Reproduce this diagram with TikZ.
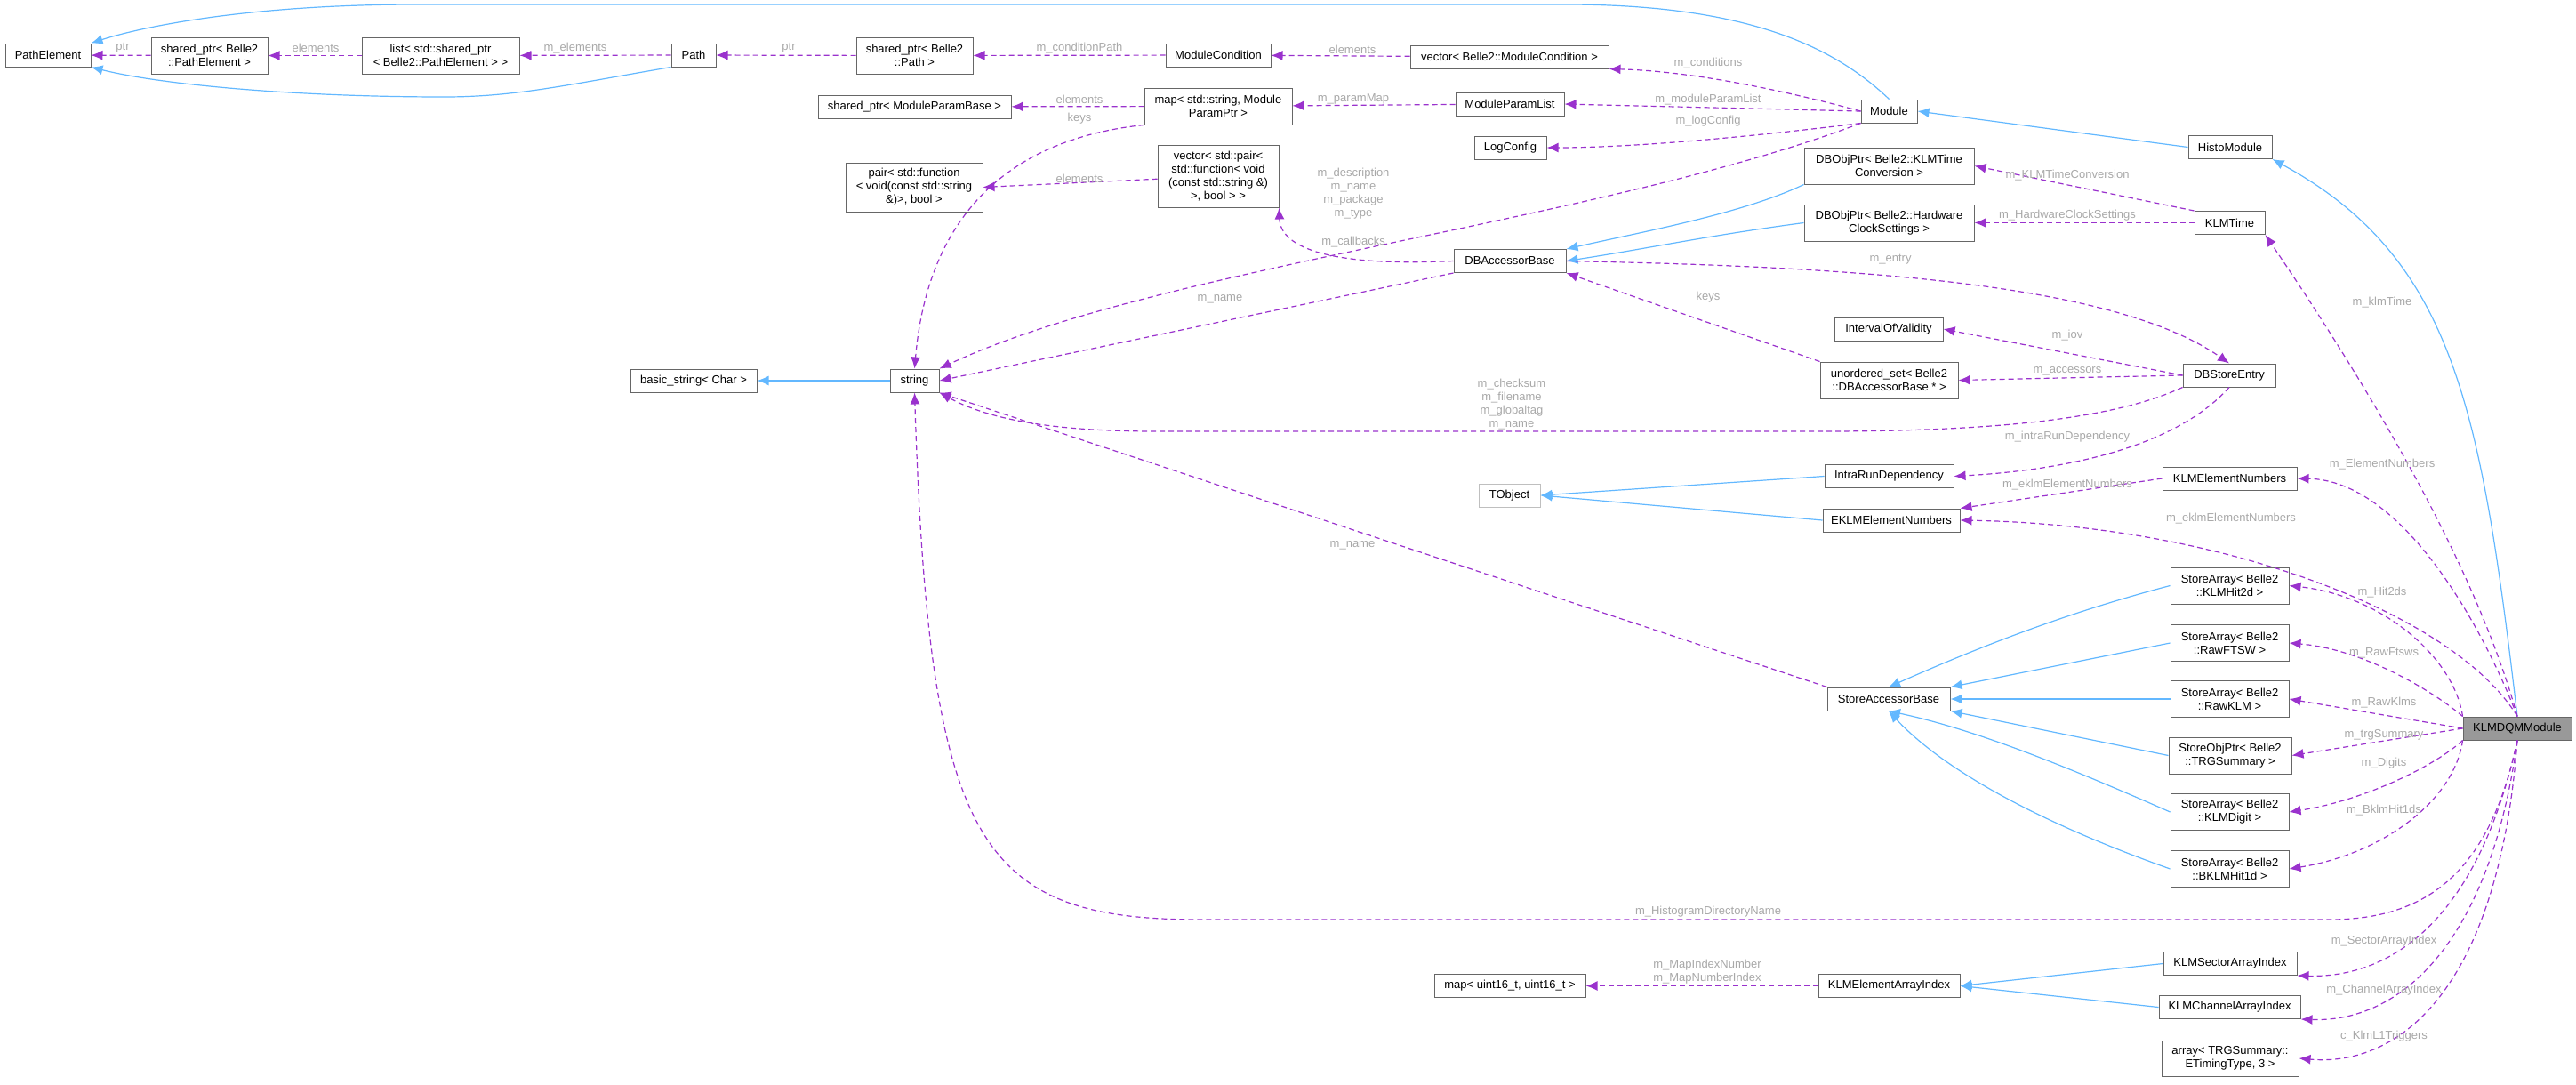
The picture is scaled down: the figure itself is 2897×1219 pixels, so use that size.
\documentclass[tikz,border=0pt]{standalone}
\usepackage{fontspec}
\setmainfont{Liberation Sans}
\usetikzlibrary{arrows.meta}
\definecolor{purp}{HTML}{9A32CD}
\definecolor{blu}{HTML}{63B8FF}
\definecolor{lab}{HTML}{A8A8A8}
\begin{document}
\begin{tikzpicture}[x=1pt,y=-1pt,
  box/.style={draw=black!60,line width=1pt,fill=white,inner sep=1pt,align=center,font=\fontsize{13}{15}\selectfont,minimum height=26},
  two/.style={minimum height=41},
  mem/.style={draw=purp,line width=1.2pt,dashed,dash pattern=on 6pt off 4pt,-{Latex[length=13,width=11]}},
  inh/.style={draw=blu,line width=1.2pt,-{Latex[length=13,width=11]}},
  lb/.style={text=lab,font=\fontsize{13}{15}\selectfont,align=center,inner sep=0pt}]
\useasboundingbox (0,0) rectangle (2897,1219);
% nodes
\node[box,minimum width=96] (PE) at (54,62) {PathElement};
\node[box,two,minimum width=131] (spPE) at (235.5,62.5) {shared\_ptr< Belle2\\::PathElement >};
\node[box,two,minimum width=177] (list) at (495.5,62.5) {list< std::shared\_ptr\\< Belle2::PathElement > >};
\node[box,minimum width=50] (Path) at (780,62) {Path};
\node[box,two,minimum width=131] (spPath) at (1028.5,62.5) {shared\_ptr< Belle2\\::Path >};
\node[box,minimum width=118] (MC) at (1370,62) {ModuleCondition};
\node[box,minimum width=223] (vecMC) at (1697.5,64) {vector< Belle2::ModuleCondition >};
\node[box,minimum width=217] (spMPB) at (1028.5,120) {shared\_ptr< ModuleParamBase >};
\node[box,two,minimum width=166] (map) at (1370,119.5) {map< std::string, Module\\ParamPtr >};
\node[box,minimum width=122] (MPL) at (1698,117) {ModuleParamList};
\node[box,minimum width=81] (LogC) at (1698.5,166) {LogConfig};
\node[box,minimum width=63] (Module) at (2124.5,125) {Module};
\node[box,minimum width=94] (Histo) at (2508,165.5) {HistoModule};
\node[box,minimum width=154,minimum height=55] (pair) at (1028,210.5) {pair< std::function\\< void(const std::string\\\&)>, bool >};
\node[box,minimum width=136,minimum height=70] (vecpair) at (1370,198) {vector< std::pair<\\std::function< void\\(const std::string \&)\\>, bool > >};
\node[box,two,minimum width=191] (DBKT) at (2124.5,186.5) {DBObjPtr< Belle2::KLMTime\\Conversion >};
\node[box,two,minimum width=191] (DBHW) at (2124.5,250.5) {DBObjPtr< Belle2::Hardware\\ClockSettings >};
\node[box,minimum width=79] (KLMTime) at (2507.5,250.5) {KLMTime};
\node[box,minimum width=126] (DBAB) at (1698,293.5) {DBAccessorBase};
\node[box,minimum width=122] (IOV) at (2124,370) {IntervalOfValidity};
\node[box,two,minimum width=155] (unord) at (2124.5,427.5) {unordered\_set< Belle2\\::DBAccessorBase * >};
\node[box,minimum width=104] (DBSE) at (2507,422) {DBStoreEntry};
\node[box,minimum width=142] (bstr) at (780,428) {basic\_string< Char >};
\node[box,minimum width=55] (string) at (1028.5,428) {string};
\node[box,minimum width=145] (IRD) at (2124.5,535.5) {IntraRunDependency};
\node[box,minimum width=151] (KEN) at (2507.5,538) {KLMElementNumbers};
\node[box,minimum width=154] (EKEN) at (2127,585) {EKLMElementNumbers};
\node[box,draw=black!25,minimum width=69] (TObj) at (1697.5,557) {TObject};
\node[box,two,minimum width=133] (SAhit) at (2507.5,658.5) {StoreArray< Belle2\\::KLMHit2d >};
\node[box,two,minimum width=133] (SAftsw) at (2507.5,723) {StoreArray< Belle2\\::RawFTSW >};
\node[box,two,minimum width=133] (SAraw) at (2507.5,786) {StoreArray< Belle2\\::RawKLM >};
\node[box,two,minimum width=138] (SOtrg) at (2508,849.5) {StoreObjPtr< Belle2\\::TRGSummary >};
\node[box,two,minimum width=133] (SAdig) at (2507.5,913) {StoreArray< Belle2\\::KLMDigit >};
\node[box,two,minimum width=133] (SAbklm) at (2507.5,977) {StoreArray< Belle2\\::BKLMHit1d >};
\node[box,minimum width=138] (SAB) at (2124,786) {StoreAccessorBase};
\node[box,fill=black!40,minimum width=122] (DQM) at (2831,819) {KLMDQMModule};
\node[box,minimum width=150] (KSAI) at (2508,1083.5) {KLMSectorArrayIndex};
\node[box,minimum width=159] (KCAI) at (2507.5,1132.5) {KLMChannelArrayIndex};
\node[box,minimum width=154,minimum height=40] (arr) at (2508,1190) {array< TRGSummary::\\ETimingType, 3 >};
\node[box,minimum width=159] (KEAI) at (2124.5,1108.5) {KLMElementArrayIndex};
\node[box,minimum width=170] (mapu) at (1698,1108.5) {map< uint16\_t, uint16\_t >};
% inheritance
\draw[inh] (Path.south west) .. controls (640,95) and (580,109) .. (500,109) .. controls (330,109) and (180,95) .. (PE.south east);
\draw[inh] (Module.north) .. controls (2060,50) and (1960,5) .. (1760,5) -- (470,5) .. controls (280,5) and (160,30) .. (PE.north east);
\draw[inh] (Histo.west) -- (Module.east);
\draw[inh] (DQM.north) .. controls (2790,460) and (2760,290) .. (Histo.south east);
\draw[inh] (DBKT.south west) .. controls (1960,240) and (1850,260) .. (DBAB.north east);
\draw[inh] (DBHW.west) .. controls (1920,265) and (1850,280) .. (DBAB.east);
\draw[inh] (string.west) -- (bstr.east);
\draw[inh] (IRD.west) -- (TObj.east);
\draw[inh] (EKEN.west) -- (TObj.east);
\draw[inh] (SAhit.west) .. controls (2320,690) and (2220,730) .. (SAB.north);
\draw[inh] (SAftsw.west) -- (SAB.north east);
\draw[inh] (SAraw.west) -- (SAB.east);
\draw[inh] (SOtrg.west) -- (SAB.south east);
\draw[inh] (SAdig.west) .. controls (2320,860) and (2220,820) .. (SAB.south);
\draw[inh] (SAbklm.west) .. controls (2280,920) and (2180,860) .. (SAB.south);
\draw[inh] (KSAI.west) -- (KEAI.east);
\draw[inh] (KCAI.west) -- (KEAI.east);
% members
\draw[mem] (spPE) -- (PE);
\draw[mem] (list) -- (spPE);
\draw[mem] (Path) -- (list);
\draw[mem] (spPath) -- (Path);
\draw[mem] (MC) -- (spPath);
\draw[mem] (vecMC) -- (MC);
\draw[mem] (Module.west) .. controls (2000,100) and (1900,80) .. (vecMC.south east);
\draw[mem] (map) -- (spMPB);
\draw[mem] (MPL) -- (map);
\draw[mem] (Module.west) -- (MPL.east);
\draw[mem] (Module.south west) .. controls (2000,150) and (1850,166) .. (LogC.east);
\draw[mem] (vecpair) -- (pair.east);
\draw[mem] (Module.south west) .. controls (1800,250) and (1300,300) .. (string.north east);
\draw[mem] (map.south west) .. controls (1100,160) and (1040,280) .. (string.north);
\draw[mem] (DBAB.west) .. controls (1500,300) and (1440,280) .. (vecpair.south east);
\draw[mem] (DBAB.south west) -- (string.east);
\draw[mem] (KLMTime.north west) -- (DBKT.east);
\draw[mem] (KLMTime.west) -- (DBHW.east);
\draw[mem] (DBAB.east) .. controls (2100,300) and (2380,320) .. (DBSE.north);
\draw[mem] (DBSE.west) -- (IOV.east);
\draw[mem] (DBSE.west) -- (unord.east);
\draw[mem] (unord.north west) -- (DBAB.south east);
\draw[mem] (DBSE.south west) .. controls (2380,470) and (2250,485) .. (2050,485) -- (1300,485) .. controls (1160,485) and (1100,465) .. (string.south east);
\draw[mem] (DBSE.south) .. controls (2440,510) and (2300,530) .. (IRD.east);
\draw[mem] (KEN.west) -- (EKEN.north east);
\draw[mem] (SAB.north west) -- (string.south east);
\draw[mem] (DQM.north) .. controls (2780,620) and (2640,400) .. (KLMTime.south east);
\draw[mem] (DQM.north) .. controls (2790,700) and (2700,540) .. (KEN.east);
\draw[mem] (DQM.north) .. controls (2760,690) and (2500,590) .. (EKEN.east);
\draw[mem] (DQM.north west) .. controls (2760,740) and (2680,670) .. (SAhit.east);
\draw[mem] (DQM.north west) .. controls (2740,780) and (2660,730) .. (SAftsw.east);
\draw[mem] (DQM.west) -- (SAraw.east);
\draw[mem] (DQM.west) -- (SOtrg.east);
\draw[mem] (DQM.south west) .. controls (2740,860) and (2660,900) .. (SAdig.east);
\draw[mem] (DQM.south west) .. controls (2760,900) and (2680,960) .. (SAbklm.east);
\draw[mem] (DQM.south) .. controls (2800,980) and (2730,1034) .. (2620,1034) -- (1350,1034) .. controls (1100,1034) and (1045,950) .. (string.south);
\draw[mem] (DQM.south) .. controls (2790,1020) and (2700,1100) .. (KSAI.south east);
\draw[mem] (DQM.south) .. controls (2800,1060) and (2700,1150) .. (KCAI.south east);
\draw[mem] (DQM.south) .. controls (2810,1110) and (2700,1200) .. (arr.east);
\draw[mem] (KEAI) -- (mapu);
% labels
\node[lb] (l1) at (138,54) {ptr};
\node[lb] (l2) at (355,54) {elements};
\node[lb] (l3) at (647,54) {m\_elements};
\node[lb] (l4) at (887,54) {ptr};
\node[lb] (l5) at (1214,54) {m\_conditionPath};
\node[lb] (l6) at (1521,56) {elements};
\node[lb] (l7) at (1921,71) {m\_conditions};
\node[lb] (l8) at (1214,112) {elements};
\node[lb] (l9) at (1214,133) {keys};
\node[lb] (l10) at (1522,111) {m\_paramMap};
\node[lb] (l11) at (1921,112) {m\_moduleParamList};
\node[lb] (l12) at (1921,136) {m\_logConfig};
\node[lb] (l13) at (1214,201) {elements};
\node[lb] (l14) at (1522,218) {m\_description\\m\_name\\m\_package\\m\_type};
\node[lb] (l15) at (1522,272) {m\_callbacks};
\node[lb] (l16) at (1372,336) {m\_name};
\node[lb] (l17) at (1921,334) {keys};
\node[lb] (l18) at (1700,455) {m\_checksum\\m\_filename\\m\_globaltag\\m\_name};
\node[lb] (l19) at (2325,197) {m\_KLMTimeConversion};
\node[lb] (l20) at (2325,242) {m\_HardwareClockSettings};
\node[lb] (l21) at (2126,292) {m\_entry};
\node[lb] (l22) at (2679,340) {m\_klmTime};
\node[lb] (l23) at (2325,377) {m\_iov};
\node[lb] (l24) at (2325,417) {m\_accessors};
\node[lb] (l25) at (2325,491) {m\_intraRunDependency};
\node[lb] (l26) at (2679,522) {m\_ElementNumbers};
\node[lb] (l27) at (2325,545) {m\_eklmElementNumbers};
\node[lb] (l28) at (2509,583) {m\_eklmElementNumbers};
\node[lb] (l29) at (1521,613) {m\_name};
\node[lb] (l30) at (2679,666) {m\_Hit2ds};
\node[lb] (l31) at (2681,734) {m\_RawFtsws};
\node[lb] (l32) at (2681,790) {m\_RawKlms};
\node[lb] (l33) at (2681,826) {m\_trgSummary};
\node[lb] (l34) at (2681,858) {m\_Digits};
\node[lb] (l35) at (2681,911) {m\_BklmHit1ds};
\node[lb] (l36) at (1921,1025) {m\_HistogramDirectoryName};
\node[lb] (l37) at (2681,1058) {m\_SectorArrayIndex};
\node[lb] (l38) at (1920,1093) {m\_MapIndexNumber\\m\_MapNumberIndex};
\node[lb] (l39) at (2681,1113) {m\_ChannelArrayIndex};
\node[lb] (l40) at (2681,1165) {c\_KlmL1Triggers};
\end{tikzpicture}
\end{document}
